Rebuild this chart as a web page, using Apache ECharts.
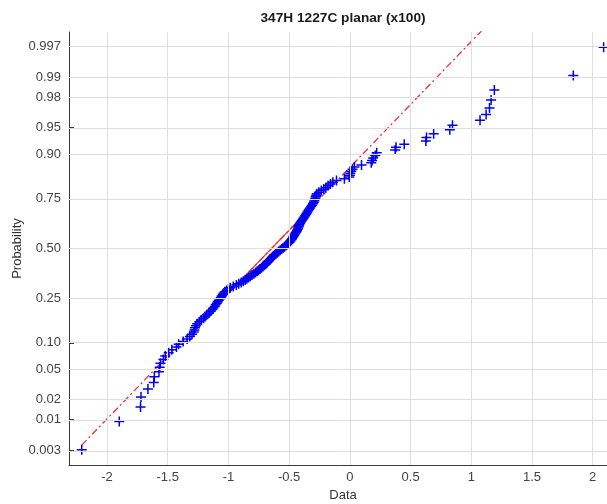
<!DOCTYPE html>
<html>
<head>
<meta charset="utf-8">
<style>
  html, body { margin: 0; padding: 0; background: #ffffff; }
  #chart { width: 607px; height: 504px; }
</style>
<script src="https://cdn.jsdelivr.net/npm/echarts@6/dist/echarts.min.js"></script>
</head>
<body>
<div id="chart"></div>
<script>
// Sorted sample values (160 observations)
const sampleValues = [
  -2.208, -1.899, -1.724, -1.720, -1.663, -1.615, -1.610, -1.572, -1.566, -1.560,
  -1.536, -1.520, -1.492, -1.466, -1.428, -1.410, -1.373, -1.340, -1.318, -1.300,
  -1.285,
  -1.280, -1.276, -1.268, -1.258, -1.240, -1.224, -1.205, -1.192, -1.178, -1.160,
  -1.146, -1.132, -1.124, -1.112, -1.105, -1.096, -1.088, -1.080, -1.070, -1.062,
  -1.056, -1.047, -1.040, -1.030, -1.015, -1.000, -0.985, -0.960, -0.935, -0.915,
  -0.895, -0.878, -0.862, -0.848, -0.834, -0.820, -0.806, -0.790, -0.777, -0.763,
  -0.752, -0.740, -0.727, -0.716, -0.706, -0.694, -0.685, -0.676, -0.667, -0.659,
  -0.648, -0.639, -0.630, -0.620, -0.608, -0.597, -0.586, -0.574, -0.562, -0.550,
  -0.538, -0.527, -0.516, -0.506, -0.497, -0.489, -0.482, -0.476, -0.470, -0.464,
  -0.458, -0.452, -0.446, -0.440, -0.435, -0.430, -0.426, -0.423, -0.420, -0.415,
  -0.410, -0.403, -0.396, -0.389, -0.382, -0.375, -0.368, -0.362, -0.355, -0.349,
  -0.342, -0.335, -0.327, -0.319, -0.312, -0.304, -0.298, -0.293, -0.288, -0.284,
  -0.280, -0.277, -0.272, -0.255, -0.235, -0.215, -0.198, -0.180,
  -0.160, -0.140, -0.110, -0.045, -0.005, 0.000, 0.004, 0.011, 0.022, 0.038,
  0.096, 0.176, 0.183, 0.192, 0.209, 0.221, 0.373, 0.380, 0.448, 0.626,
  0.631, 0.690, 0.823, 0.845, 1.072, 1.122, 1.150, 1.163, 1.190, 1.840,
  2.090
];

// Probability axis ticks
const probTicks = [0.003, 0.01, 0.02, 0.05, 0.10, 0.25, 0.50, 0.75, 0.90, 0.95, 0.98, 0.99, 0.997];
const probTickLabels = ['0.003', '0.01', '0.02', '0.05', '0.10', '0.25', '0.50', '0.75', '0.90', '0.95', '0.98', '0.99', '0.997'];

// Data axis ticks
const dataTicks = [-2, -1.5, -1, -0.5, 0, 0.5, 1, 1.5, 2];
const dataTickLabels = ['-2', '-1.5', '-1', '-0.5', '0', '0.5', '1', '1.5', '2'];

// Normal reference line (through the quartiles)
const lineMu = -0.645;
const lineSigma = 0.585;

// Inverse of the standard normal CDF (Acklam's rational approximation)
function normInv(p) {
  const a = [-3.969683028665376e+01, 2.209460984245205e+02, -2.759285104469687e+02,
             1.383577518672690e+02, -3.066479806614716e+01, 2.506628277459239e+00];
  const b = [-5.447609879822406e+01, 1.615858368580409e+02, -1.556989798598866e+02,
             6.680131188771972e+01, -1.328068155288572e+01];
  const c = [-7.784894002430293e-03, -3.223964580411365e-01, -2.400758277161838e+00,
             -2.549732539343734e+00, 4.374664141464968e+00, 2.938163982698783e+00];
  const d = [7.784695709041462e-03, 3.224671290700398e-01, 2.445134137142996e+00,
             3.754408661907416e+00];
  const pl = 0.02425, ph = 1 - pl;
  let q, r;
  if (p < pl) {
    q = Math.sqrt(-2 * Math.log(p));
    return (((((c[0]*q + c[1])*q + c[2])*q + c[3])*q + c[4])*q + c[5]) /
           ((((d[0]*q + d[1])*q + d[2])*q + d[3])*q + 1);
  }
  if (p > ph) {
    q = Math.sqrt(-2 * Math.log(1 - p));
    return -(((((c[0]*q + c[1])*q + c[2])*q + c[3])*q + c[4])*q + c[5]) /
            ((((d[0]*q + d[1])*q + d[2])*q + d[3])*q + 1);
  }
  q = p - 0.5; r = q * q;
  return (((((a[0]*r + a[1])*r + a[2])*r + a[3])*r + a[4])*r + a[5]) * q /
         (((((b[0]*r + b[1])*r + b[2])*r + b[3])*r + b[4])*r + 1);
}

const n = sampleValues.length;
// plotting positions (i - 0.5) / n on the normal quantile scale
const points = sampleValues.map((v, i) => [v, normInv((i + 0.5) / n)]);

const probTickZ = probTicks.map(normInv);
const zOf = x => (x - lineMu) / lineSigma;
const xMin = sampleValues[0];
const xMax = sampleValues[n - 1];
const q1x = lineMu + normInv(0.25) * lineSigma;
const q3x = lineMu + normInv(0.75) * lineSigma;

const fontFamily = '"Liberation Sans", Arial, Helvetica, sans-serif';
const gridColor = '#dedede';
const axisColor = '#3a3a3a';
const labelColor = '#444444';

const plusPath = 'path://M0,4.25H10V5.75H0Z M4.25,0H5.75V10H4.25Z';

const chart = echarts.init(document.getElementById('chart'), null, { renderer: 'canvas' });

chart.setOption({
  animation: false,
  backgroundColor: '#ffffff',
  title: {
    text: '347H 1227C planar (x100)',
    left: 343,
    top: 11,
    padding: 0,
    textAlign: 'center',
    textStyle: { fontFamily, fontSize: 13.7, fontWeight: 'bold', color: '#1a1a1a' }
  },
  grid: { left: 69, top: 32, right: -10, bottom: 39, outerBoundsMode: 'none', containLabel: false },
  xAxis: {
    type: 'value',
    min: -2.313,
    max: 2.2,
    name: 'Data',
    nameLocation: 'middle',
    nameGap: 24,
    nameMoveOverlap: false,
    nameTextStyle: { fontFamily, fontSize: 13, color: '#333333' },
    axisLine: { show: true, onZero: false, lineStyle: { color: axisColor, width: 1 } },
    axisTick: { show: true, inside: true, length: 5, customValues: dataTicks, lineStyle: { color: axisColor } },
    axisLabel: {
      customValues: dataTicks,
      margin: 6,
      fontFamily, fontSize: 13, color: labelColor,
      formatter: v => {
        const i = dataTicks.findIndex(t => Math.abs(t - v) < 1e-9);
        return i >= 0 ? dataTickLabels[i] : '';
      }
    },
    splitLine: { show: false }
  },
  yAxis: {
    type: 'value',
    min: -2.942,
    max: 2.942,
    name: 'Probability',
    nameLocation: 'middle',
    nameGap: 45,
    nameRotate: 90,
    nameMoveOverlap: false,
    nameTextStyle: { fontFamily, fontSize: 13, color: '#333333' },
    axisLine: { show: true, onZero: false, lineStyle: { color: axisColor, width: 1 } },
    axisTick: { show: true, inside: true, length: 5, customValues: probTickZ, lineStyle: { color: axisColor } },
    axisLabel: {
      customValues: probTickZ,
      margin: 8,
      fontFamily, fontSize: 13, color: labelColor,
      formatter: v => {
        const i = probTickZ.findIndex(t => Math.abs(t - v) < 1e-6);
        return i >= 0 ? probTickLabels[i] : '';
      }
    },
    splitLine: { show: false }
  },
  series: [
    {
      // grid lines
      type: 'line',
      data: [],
      z: 1,
      silent: true,
      markLine: {
        silent: true,
        symbol: ['none', 'none'],
        label: { show: false },
        lineStyle: { color: gridColor, width: 1, type: 'solid' },
        emphasis: { disabled: true },
        data: [
          ...probTickZ.map(z => ({ yAxis: z })),
          ...dataTicks.map(x => ({ xAxis: x }))
        ]
      }
    },
    {
      // reference line, dash-dot over the data range
      type: 'line',
      z: 2,
      silent: true,
      symbol: 'none',
      clip: true,
      lineStyle: { color: '#ee3030', width: 1.3, type: [7, 3, 2, 3] },
      data: [[xMin, zOf(xMin)], [xMax, zOf(xMax)]]
    },
    {
      // reference line, solid between the quartiles
      type: 'line',
      z: 2,
      silent: true,
      symbol: 'none',
      clip: true,
      lineStyle: { color: '#ee3030', width: 1.3, type: 'solid' },
      data: [[q1x, zOf(q1x)], [q3x, zOf(q3x)]]
    },
    {
      type: 'scatter',
      z: 3,
      symbol: plusPath,
      symbolSize: 10,
      itemStyle: { color: '#0000ee', opacity: 1 },
      data: points
    }
  ]
});
</script>
</body>
</html>
